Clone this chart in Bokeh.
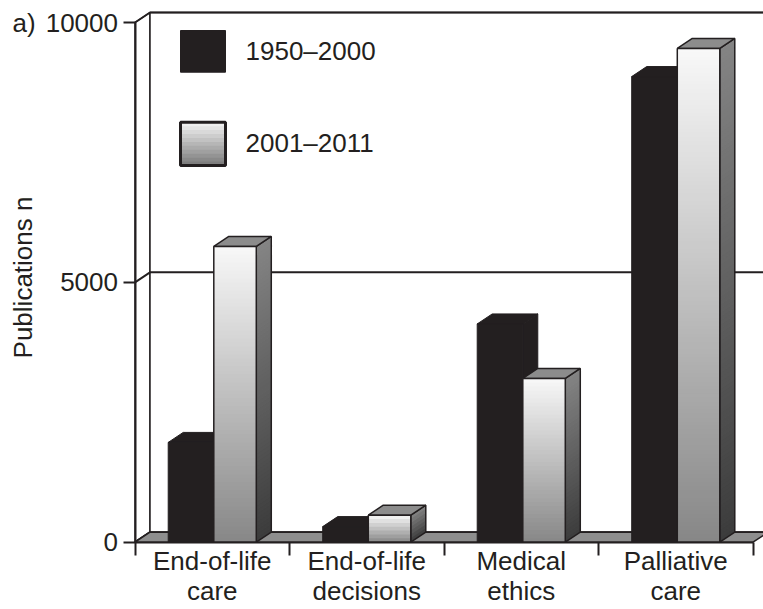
import math
from bokeh.plotting import figure
from bokeh.models import Range1d, FixedTicker, ColumnDataSource
from bokeh.embed import file_html
from bokeh.resources import INLINE
from bokeh.core.properties import value

# ---------------- data ----------------
categories = ["End-of-life\ncare", "End-of-life\ndecisions", "Medical\nethics", "Palliative\ncare"]
series_names = ["1950–2000", "2001–2011"]
pubs_1950_2000 = [1920, 300, 4200, 8960]
pubs_2001_2011 = [5690, 520, 3150, 9500]
y_ticks = [0, 5000, 10000]
y_tick_labels = ["0", "5000", "10000"]
panel_label = "a)"
y_title = "Publications n"

# ---------------- layout / style ----------------
W, H = 763, 609
PAGE = 0
AX_X = 134.5          # page x of the left (front) axis
AX_Y = 541.7          # page y of value 0 (front)
UX = 154.5            # px per category
UY = 519.7 / 10000.0  # px per publication
FONT = "Liberation Sans"
FS = "26px"
INK = "#231f20"


def X(px):
    return (px - AX_X) / UX - 0.5


def Y(py):
    return (AX_Y - py) / UY


DX = 15 / UX   # 3D depth, horizontal
DY = 10 / UY   # 3D depth, vertical
XL, XR = -0.5, len(categories) - 0.5
YTOP = y_ticks[-1]

p = figure(width=W, height=H, x_range=Range1d(X(PAGE), X(PAGE + W)),
           y_range=Range1d(Y(PAGE + H), Y(PAGE)),
           output_backend="svg", toolbar_location=None,
           min_border_left=0, min_border_right=0, min_border_top=0, min_border_bottom=0)
p.outline_line_color = None
p.grid.visible = False
p.background_fill_color = "white"

# ---- walls ----
p.patch([XL, XL + DX, XL + DX, XL], [0, DY, YTOP + DY, YTOP],
        fill_color="white", line_color=INK, line_width=1.5)
p.quad(left=[XL + DX], right=[XR + DX], bottom=[DY], top=[YTOP + DY],
       fill_color="white", line_color=INK, line_width=1.5)
p.multi_line(xs=[[XL, XL + DX, XR + DX] for v in y_ticks],
             ys=[[v, v + DY, v + DY] for v in y_ticks], line_color=INK, line_width=2)
# ---- floor ----
p.patch([XL, XR, XR + DX, XL + DX], [0, 0, DY, DY],
        fill_color="#8e8e8e", line_color=INK, line_width=1.5)


def gray(g):
    g = int(round(g))
    return "#%02x%02x%02x" % (g, g, g)


def nslices(v):
    return max(3, int(round(v * UY / 4)))


# ---- bars ----
blk_xs, blk_ys = [], []
front = dict(left=[], right=[], bottom=[], top=[], color=[])
side = dict(xs=[], ys=[], color=[])
wtop_xs, wtop_ys = [], []
wside_xs, wside_ys = [], []
wfront = dict(left=[], right=[], bottom=[], top=[])

for i, (vb, vw) in enumerate(zip(pubs_1950_2000, pubs_2001_2011)):
    b0 = i - 0.5 + 0.215
    b1 = i - 0.5 + 0.51
    w1 = i - 0.5 + 0.785
    # black bar: side, top, front
    blk_xs += [[b1, b1 + DX, b1 + DX, b1], [b0, b1, b1 + DX, b0 + DX], [b0, b1, b1, b0]]
    blk_ys += [[0, DY, vb + DY, vb], [vb, vb, vb + DY, vb + DY], [0, 0, vb, vb]]
    # white bar gradients
    n = nslices(vw)
    for k in range(n):
        ya = vw * k / n
        yb = min(vw, vw * (k + 1) / n + 1.0 / UY)
        t = 1 - (k + 0.5) / n  # 0 at top, 1 at bottom
        front["left"].append(b1)
        front["right"].append(w1)
        front["bottom"].append(ya)
        front["top"].append(yb)
        front["color"].append(gray(248 - 113 * t))
        side["xs"].append([w1, w1 + DX, w1 + DX, w1])
        side["ys"].append([ya, ya + DY, yb + DY, yb])
        side["color"].append(gray(132 - 72 * t))
    wtop_xs.append([b1, w1, w1 + DX, b1 + DX])
    wtop_ys.append([vw, vw, vw + DY, vw + DY])
    wside_xs.append([w1, w1 + DX, w1 + DX, w1])
    wside_ys.append([0, DY, vw + DY, vw])
    wfront["left"].append(b1)
    wfront["right"].append(w1)
    wfront["bottom"].append(0)
    wfront["top"].append(vw)

p.patches(blk_xs, blk_ys, fill_color=INK, line_color=INK, line_width=1)
p.patches(xs="xs", ys="ys", fill_color="color", line_color=None,
          source=ColumnDataSource(side))
p.patches(wside_xs, wside_ys, fill_color=None, line_color=INK, line_width=1.5)
p.patches(wtop_xs, wtop_ys, fill_color="#8c8c8c", line_color=INK, line_width=1.5)
p.quad(left="left", right="right", bottom="bottom", top="top", fill_color="color",
       line_color=None, source=ColumnDataSource(front))
p.quad(left="left", right="right", bottom="bottom", top="top", fill_color=None,
       line_color=INK, line_width=1.5, source=ColumnDataSource(wfront))

# ---- legend (manual, to allow the gradient swatch) ----
p.quad(left=[X(180)], right=[X(225)], bottom=[Y(71.7)], top=[Y(30)],
       fill_color=INK, line_color=INK, line_width=1)
lg = dict(left=[], right=[], bottom=[], top=[], color=[])
y_lo, y_hi = Y(165), Y(121.7)
nl = 11
for k in range(nl):
    ya = y_lo + (y_hi - y_lo) * k / nl
    yb = min(y_hi, y_lo + (y_hi - y_lo) * (k + 1) / nl + 1.0 / UY)
    t = 1 - (k + 0.5) / nl
    lg["left"].append(X(180))
    lg["right"].append(X(225))
    lg["bottom"].append(ya)
    lg["top"].append(yb)
    lg["color"].append(gray(245 - 125 * t))
p.quad(left="left", right="right", bottom="bottom", top="top", fill_color="color",
       line_color=None, source=ColumnDataSource(lg))
p.quad(left=[X(180)], right=[X(225)], bottom=[y_lo], top=[y_hi],
       fill_color=None, line_color=INK, line_width=3)
p.text(x=[X(245), X(245)], y=[Y(50.5), Y(142)], text=series_names,
       text_font=value(FONT), text_font_size=FS, text_color=INK,
       text_align="left", text_baseline="middle")

# ---- panel label and y title ----
p.text(x=[X(12)], y=[YTOP], text=[panel_label], text_font=value(FONT), text_font_size=FS,
       text_color=INK, text_align="left", text_baseline="middle")
p.text(x=[X(22.5)], y=[Y(277)], text=[y_title], angle=math.pi / 2,
       text_font=value(FONT), text_font_size=FS, text_color=INK,
       text_align="center", text_baseline="middle")

# ---- axes ----
xa = p.xaxis[0]
xa.ticker = FixedTicker(ticks=list(range(len(categories))),
                        minor_ticks=[c - 0.5 for c in range(len(categories) + 1)])
xa.major_label_overrides = {i: c for i, c in enumerate(categories)}
xa.fixed_location = 0
xa.bounds = (XL, XR)
xa.axis_line_color = INK
xa.axis_line_width = 2
xa.major_tick_out = 0
xa.major_tick_in = 0
xa.minor_tick_out = 13
xa.minor_tick_in = 0
xa.minor_tick_line_color = INK
xa.minor_tick_line_width = 2
xa.major_label_standoff = -9
xa.major_label_text_font = FONT
xa.major_label_text_font_size = FS
xa.major_label_text_color = INK
xa.major_label_text_line_height = 1.0

ya_ = p.yaxis[0]
ya_.ticker = FixedTicker(ticks=y_ticks, minor_ticks=[])
ya_.major_label_overrides = {v: s for v, s in zip(y_ticks, y_tick_labels)}
ya_.fixed_location = XL
ya_.bounds = (0, YTOP)
ya_.axis_line_color = INK
ya_.axis_line_width = 2
ya_.major_tick_out = 12
ya_.major_tick_in = 0
ya_.major_tick_line_color = INK
ya_.major_tick_line_width = 2
ya_.minor_tick_line_color = None
ya_.major_label_standoff = 5
ya_.major_label_text_font = FONT
ya_.major_label_text_font_size = FS
ya_.major_label_text_color = INK

open("out.html", "w").write(file_html(p, INLINE))
